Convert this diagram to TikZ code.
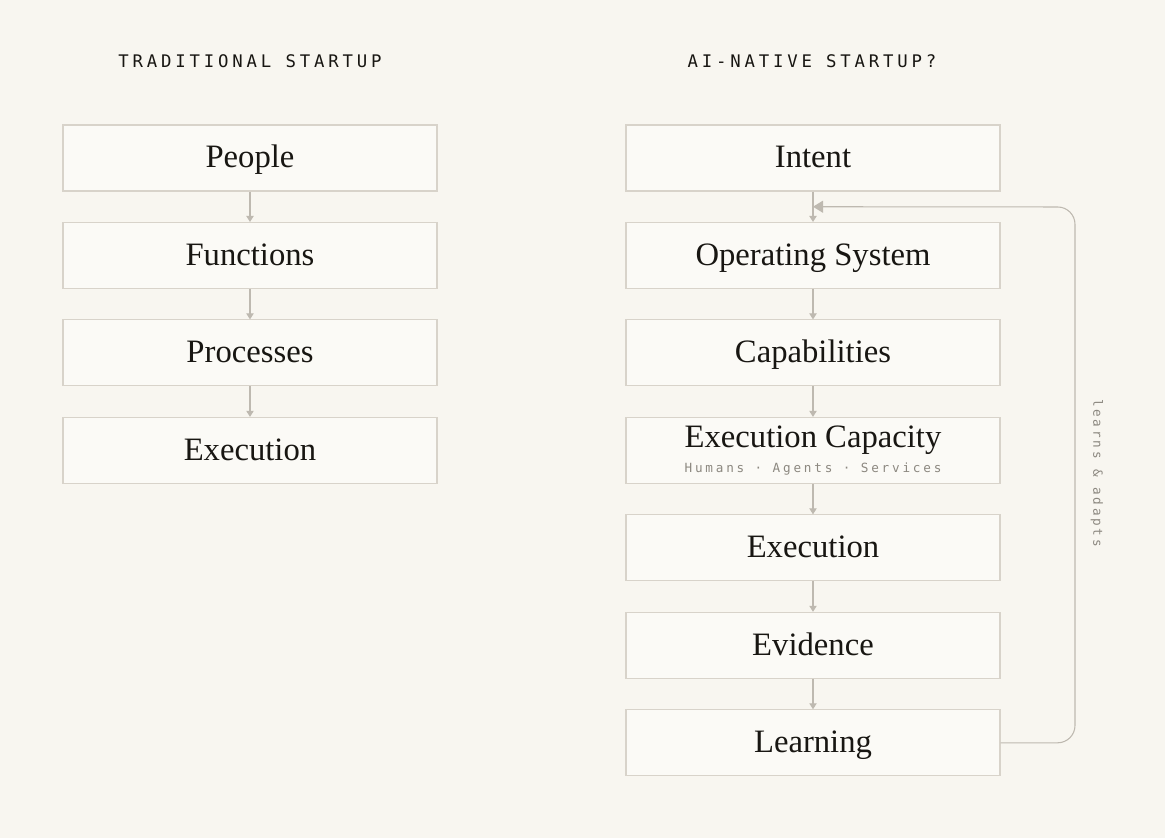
\documentclass[tikz,border=0pt]{standalone}
\usepackage{fontspec}
\setmainfont{Liberation Serif}
\usetikzlibrary{arrows.meta, positioning, calc}
\newfontfamily\capsmono[LetterSpace=22]{DejaVu Sans Mono}
\definecolor{paper}{RGB}{248,246,240}
\definecolor{boxfill}{RGB}{251,250,246}
\definecolor{boxline}{RGB}{216,211,202}
\definecolor{arrowline}{RGB}{190,185,176}
\definecolor{ink}{RGB}{24,22,18}
\definecolor{muted}{RGB}{140,136,128}
\tikzstyle{block} = [draw=boxline, fill=boxfill, rectangle, line width=0.8pt, minimum width=280.5pt, minimum height=49.5pt, inner sep=0pt, text=ink, font=\fontsize{24.5}{28}\selectfont]
\tikzstyle{single} = [text height=18pt, text depth=3pt]
\tikzstyle{flow} = [draw=arrowline, line width=0.8pt, -{Triangle[width=5.5pt,length=4.5pt]}]
\tikzstyle{heading} = [text=ink, font=\capsmono\fontsize{13}{15}\selectfont]
\tikzstyle{note} = [text=muted, font=\capsmono\fontsize{9.5}{11}\selectfont]
\newcommand{\notefont}{\color{muted}\capsmono\fontsize{9.5}{11}\selectfont}

\begin{document}
\begin{tikzpicture}[x=0.75pt, y=-0.75pt, node distance=73.1pt]
  \useasboundingbox[fill=paper] (0,0) rectangle (1165,838);

  % traditional
  \node[heading] (oldtitle) at (250,61) {TRADITIONAL STARTUP};
  \node[block, single] (people) at (250,158) {People};
  \node[block, single, below of=people] (functions) {Functions};
  \node[block, single, below of=functions] (processes) {Processes};
  \node[block, single, below of=processes] (oldexec) {Execution};

  \draw[flow] (people) -- (functions);
  \draw[flow] (functions) -- (processes);
  \draw[flow] (processes) -- (oldexec);

  % ai-native
  \node[heading] (newtitle) at (812,61) {AI-NATIVE STARTUP?};
  \node[block, single] (intent) at (813,158) {Intent};
  \node[block, single, below of=intent] (opsys) {Operating System};
  \node[block, single, below of=opsys] (caps) {Capabilities};
  \node[block, below of=caps, align=center] (capacity) {Execution Capacity\\[-9pt]{\notefont Humans · Agents · Services}};
  \node[block, single, below of=capacity] (newexec) {Execution};
  \node[block, single, below of=newexec] (evidence) {Evidence};
  \node[block, single, below of=evidence] (learning) {Learning};

  \draw[flow] (intent) -- (opsys);
  \draw[flow] (opsys) -- (caps);
  \draw[flow] (caps) -- (capacity);
  \draw[flow] (capacity) -- (newexec);
  \draw[flow] (newexec) -- (evidence);
  \draw[flow] (evidence) -- (learning);

  % feedback loop
  \coordinate (loop) at (1075,207);
  \coordinate (join) at ($(intent.south)!0.5!(opsys.north)$);
  \draw[draw=arrowline, line width=0.8pt, rounded corners=13pt, -{Triangle[width=9pt,length=7.5pt]}]
    (learning.east) -| (loop) -- (join);
  \node[note, rotate=-90] (looplabel) at (1097,473) {learns \& adapts};
\end{tikzpicture}
\end{document}
